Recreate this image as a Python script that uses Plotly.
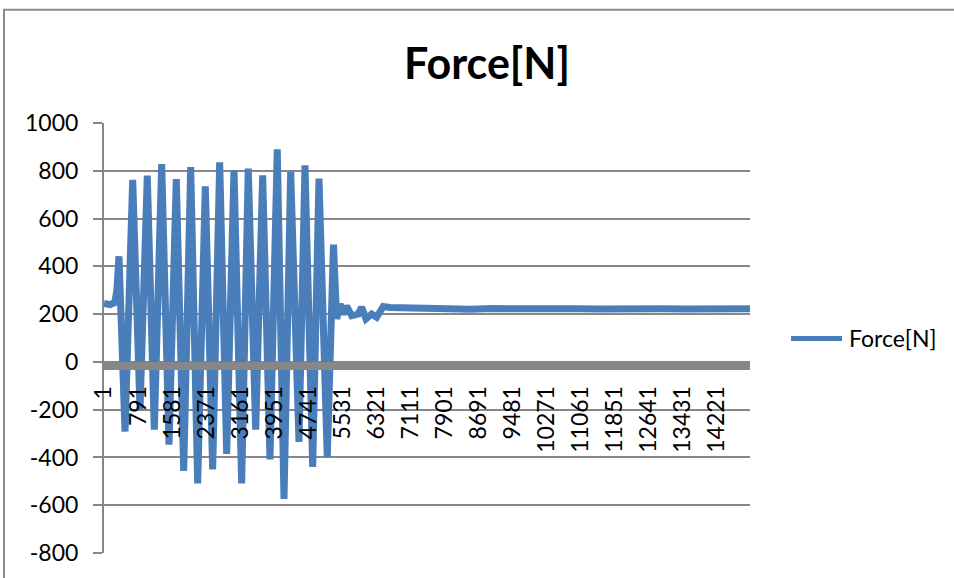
import plotly.graph_objects as go

# Force[N] readings: sample number and force value at each turning point
series_name = "Force[N]"
sample_idx = [
    1, 140, 250, 300, 348, 488, 666, 836, 1005, 1168, 1339, 1509, 1678,
    1850, 2012, 2174, 2351, 2522, 2685, 2847, 3017, 3195, 3348, 3520,
    3682, 3852, 4021, 4177, 4332, 4525, 4664, 4843, 4989, 5181, 5325,
    5399, 5476, 5553, 5631, 5747, 5900, 5979, 6079, 6211, 6327, 6480,
    6636, 7000, 7500, 8000, 8500, 9000, 9500, 10000, 10500, 11000,
    11500, 12000, 12500, 13000, 13500, 14000, 14500, 14990,
]
force_n = [
    245, 240, 248, 300, 442, -292, 762, -200, 780, -284, 828, -346, 765,
    -456, 815, -509, 735, -450, 835, -385, 802, -509, 809, -284,
    781, -408, 890, -574, 795, -335, 823, -440, 767, -398, 491,
    180, 242, 200, 234, 193, 200, 229, 180, 200, 187, 232,
    228, 226, 222, 224, 220, 223, 221, 224, 220, 222,
    221, 223, 220, 222, 221, 223, 220, 222,
]
n_samples = 14990
x_tick_vals = list(range(1, 14222, 790))
x_tick_text = [str(v) for v in x_tick_vals]
y_tick_vals = list(range(-800, 1001, 200))
y_tick_text = [str(v) for v in y_tick_vals]
y_min, y_max = -800, 1000

W, H = 954, 578
L, R, T, B = 104, 204, 123, 22
plot_w, plot_h = W - L - R, H - T - B

LINE_BLUE = "#4a7ebb"
GRID = "#878787"
FONT = "Lato"

fig = go.Figure()
fig.add_trace(go.Scatter(
    x=sample_idx, y=force_n, mode="lines", name=series_name,
    line=dict(color=LINE_BLUE, width=7), showlegend=False,
))

# thick category axis sitting just under the zero level
band_px = 8
zero_pos = (0 - y_min) / (y_max - y_min) - (band_px / 2) / plot_h

fig.update_layout(
    width=W, height=H,
    margin=dict(l=L, r=R, t=T, b=B, pad=0),
    paper_bgcolor="white", plot_bgcolor="white",
    font=dict(family=FONT, color="black", size=23),
    title=dict(
        text="<b>Force[N]</b>", font=dict(family=FONT, size=43, color="black"),
        xref="container", yref="container", x=487 / W, xanchor="center",
        y=1 - 64 / H, yanchor="middle",
    ),
    xaxis=dict(
        range=[0.5, n_samples + 0.5], tickmode="array",
        tickvals=x_tick_vals, ticktext=x_tick_text, tickangle=-90,
        showgrid=False, zeroline=False, ticks="",
        showline=True, linecolor=GRID, linewidth=band_px,
        anchor="free", position=zero_pos, layer="above traces",
        ticklabelstandoff=7,
        tickfont=dict(family=FONT, size=23, color="black"),
    ),
    yaxis=dict(
        range=[y_min, y_max], tickmode="array",
        tickvals=y_tick_vals, ticktext=y_tick_text,
        showgrid=True, gridcolor=GRID, gridwidth=2, zeroline=False,
        showline=True, linecolor=GRID, linewidth=2,
        ticks="outside", ticklen=9, tickcolor=GRID, tickwidth=2,
        ticklabelstandoff=10,
        tickfont=dict(family=FONT, size=23, color="black"),
    ),
)

# chart area border
def px_x(p):
    return (p - L) / plot_w

def px_y(p):
    return (H - B - p) / plot_h

fig.add_shape(
    type="rect", xref="paper", yref="paper",
    x0=px_x(4), x1=px_x(1100), y0=px_y(700), y1=px_y(9),
    line=dict(color="#8c8c8c", width=2), fillcolor="rgba(0,0,0,0)",
    layer="below",
)

# legend entry
fig.add_shape(
    type="line", xref="paper", yref="paper",
    x0=px_x(791), x1=px_x(842), y0=px_y(340), y1=px_y(340),
    line=dict(color=LINE_BLUE, width=5),
)
fig.add_annotation(
    text=series_name, xref="paper", yref="paper",
    x=px_x(847), y=px_y(340), xanchor="left", yanchor="middle",
    showarrow=False, font=dict(family=FONT, size=23, color="black"),
)

fig.write_html("out.html")
